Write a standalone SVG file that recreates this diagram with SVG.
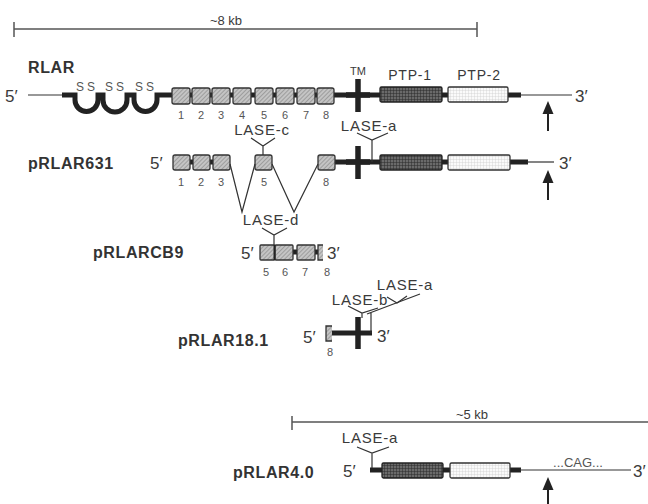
<svg xmlns="http://www.w3.org/2000/svg" width="648" height="504" viewBox="0 0 648 504">
<defs>
<pattern id="hatch" width="3" height="3" patternUnits="userSpaceOnUse" patternTransform="rotate(45)">
<rect width="3" height="3" fill="#c4c4c4"/>
<line x1="0" y1="0" x2="0" y2="3" stroke="#777" stroke-width="1"/>
</pattern>
<pattern id="dgrid" width="3" height="3" patternUnits="userSpaceOnUse">
<rect width="3" height="3" fill="#6a6a6a"/>
<path d="M0,0H3M0,0V3" stroke="#2a2a2a" stroke-width="1"/>
</pattern>
<pattern id="lgrid" width="3" height="3" patternUnits="userSpaceOnUse">
<rect width="3" height="3" fill="#fafafa"/>
<path d="M0,0H3M0,0V3" stroke="#c8c8c8" stroke-width="0.7"/>
</pattern>
</defs>
<style>
text{font-family:"Liberation Sans",Arial,sans-serif;fill:#3a3a3a}
.lab{font-weight:bold;font-size:16px;letter-spacing:0.6px;fill:#333}
.end{font-size:17px}
.num{font-size:11px;fill:#555}
.dom{font-size:14px;letter-spacing:0.8px}
.lase{font-size:15px;letter-spacing:0.8px}
.s{font-size:12px;fill:#555}
.thin{stroke:#333;stroke-width:1.2;fill:none}
.thick{stroke:#222;stroke-width:5;fill:none}
.ex{fill:url(#hatch);stroke:#333;stroke-width:1.3}
.p1{fill:url(#dgrid);stroke:#222;stroke-width:1.3}
.p2{fill:url(#lgrid);stroke:#333;stroke-width:1.3}
.tm{stroke:#222;stroke-width:5.5}
.y{stroke:#333;stroke-width:1.2;fill:none}
.bar{stroke:#555;stroke-width:1.5;fill:none}
.arr{fill:#222}
</style>

<g id="scale8">
<path class="bar" d="M14,29H477M14,22V37M477,22V37"/>
<text x="226" y="25" text-anchor="middle" style="font-size:13px">~8 kb</text>
</g>

<g id="RLAR">
<text class="lab" x="28" y="73">RLAR</text>
<text class="end" x="5" y="102">5′</text>
<path class="thin" d="M28,95H64"/>
<path class="thick" d="M62,95H75V100A11.5,11.5 0 0 0 98,100V95H103V100A12,12 0 0 0 127,100V95H134V100A11.5,11.5 0 0 0 157,100V95H380"/>
<text class="s" x="76" y="91">S</text><text class="s" x="87" y="91">S</text>
<text class="s" x="105" y="91">S</text><text class="s" x="116" y="91">S</text>
<text class="s" x="135" y="91">S</text><text class="s" x="146" y="91">S</text>
<rect class="ex" x="172" y="88" width="18" height="16" rx="2"/>
<rect class="ex" x="192" y="88" width="18" height="16" rx="2"/>
<rect class="ex" x="212" y="88" width="18" height="16" rx="2"/>
<rect class="ex" x="233" y="88" width="18" height="16" rx="2"/>
<rect class="ex" x="255" y="88" width="18" height="16" rx="2"/>
<rect class="ex" x="276" y="88" width="18" height="16" rx="2"/>
<rect class="ex" x="297" y="88" width="18" height="16" rx="2"/>
<rect class="ex" x="317" y="88" width="17" height="16" rx="2"/>
<text class="num" x="181" y="119" text-anchor="middle">1</text>
<text class="num" x="201" y="119" text-anchor="middle">2</text>
<text class="num" x="221" y="119" text-anchor="middle">3</text>
<text class="num" x="242" y="119" text-anchor="middle">4</text>
<text class="num" x="264" y="119" text-anchor="middle">5</text>
<text class="num" x="285" y="119" text-anchor="middle">6</text>
<text class="num" x="306" y="119" text-anchor="middle">7</text>
<text class="num" x="326" y="119" text-anchor="middle">8</text>
<path class="tm" d="M358,79V112M346,95H370"/>
<text x="358" y="75" text-anchor="middle" style="font-size:11px">TM</text>
<path class="thick" d="M440,95H450M508,95H521"/>
<rect class="p1" x="380" y="87" width="62" height="15" rx="1.5"/>
<rect class="p2" x="448" y="87" width="60" height="15" rx="1.5"/>
<text class="dom" x="410" y="80" text-anchor="middle">PTP-1</text>
<text class="dom" x="479" y="80" text-anchor="middle">PTP-2</text>
<path class="thin" d="M520,95H572"/>
<text class="end" x="575" y="102">3′</text>
<path class="arr" d="M548,101L542.5,114H553.5Z"/>
<path d="M548,112V131" stroke="#222" stroke-width="2"/>
</g>

<g id="pRLAR631">
<text class="lab" x="28" y="169">pRLAR631</text>
<text class="end" x="150" y="169">5′</text>
<path class="thick" d="M175,162H228M333,162H380"/>
<rect class="ex" x="173" y="155" width="17" height="15" rx="2"/>
<rect class="ex" x="193" y="155" width="17" height="15" rx="2"/>
<rect class="ex" x="213" y="155" width="17" height="15" rx="2"/>
<rect class="ex" x="255" y="155" width="17" height="15" rx="2"/>
<rect class="ex" x="318" y="155" width="17" height="15" rx="2"/>
<text class="num" x="181" y="186" text-anchor="middle">1</text>
<text class="num" x="201" y="186" text-anchor="middle">2</text>
<text class="num" x="221" y="186" text-anchor="middle">3</text>
<text class="num" x="264" y="186" text-anchor="middle">5</text>
<text class="num" x="326" y="186" text-anchor="middle">8</text>
<path class="y" d="M251,138L263,146L275,138M263,146V155"/>
<text class="lase" x="262" y="135" text-anchor="middle">LASE-c</text>
<path class="tm" d="M358,146V179M346,162H370"/>
<path class="y" d="M357,133L372,140L388,133M372,140V162"/>
<text class="lase" x="369" y="131" text-anchor="middle">LASE-a</text>
<path class="thick" d="M440,162H450M508,162H528"/>
<rect class="p1" x="380" y="155" width="62" height="15" rx="1.5"/>
<rect class="p2" x="448" y="155" width="62" height="15" rx="1.5"/>
<path class="thin" d="M527,162H554"/>
<text class="end" x="559" y="169">3′</text>
<path class="arr" d="M548,170L542.5,183H553.5Z"/>
<path d="M548,181V200" stroke="#222" stroke-width="2"/>
</g>

<g id="splices">
<path class="thin" d="M230,164L242,212L255,164M272,164L294,212L318,164"/>
</g>

<g id="pRLARCB9">
<text class="lab" x="93" y="258">pRLARCB9</text>
<text class="end" x="241" y="259">5′</text>
<path class="thick" d="M262,252H320"/>
<rect class="ex" x="260" y="245" width="15" height="15" rx="1"/>
<rect class="ex" x="275" y="245" width="18" height="15" rx="1"/>
<rect class="ex" x="297" y="245" width="18" height="15" rx="1"/>
<path class="ex" d="M323,245H318V260H323"/>
<path d="M274.5,245V260" stroke="#222" stroke-width="2"/>
<text class="num" x="266" y="276" text-anchor="middle">5</text>
<text class="num" x="285" y="276" text-anchor="middle">6</text>
<text class="num" x="305" y="276" text-anchor="middle">7</text>
<text class="num" x="327" y="276" text-anchor="middle">8</text>
<text class="end" x="327" y="259">3′</text>
<path class="y" d="M262,228L274,235L287,228M274,235V245"/>
<text class="lase" x="271" y="225" text-anchor="middle">LASE-d</text>
</g>

<g id="pRLAR18.1">
<text class="lab" x="178" y="346">pRLAR18.1</text>
<text class="end" x="303" y="343">5′</text>
<path class="thick" d="M330,333H372"/>
<path class="ex" d="M332,326H326V341H332"/>
<text class="num" x="330" y="356" text-anchor="middle">8</text>
<path class="tm" d="M358,317V349"/>
<path class="thin" d="M371,312V333M367,314L420,294"/>
<path class="y" d="M348,306L362,313L378,308M362,313V318"/>
<path class="y" d="M387,297L397,303L407,296"/>
<text class="lase" x="360" y="305" text-anchor="middle">LASE-b</text>
<text class="lase" x="405" y="290" text-anchor="middle">LASE-a</text>
<text class="end" x="377" y="342">3′</text>
</g>

<g id="scale5">
<path class="bar" d="M292,422H648M292,416V430"/>
<text x="472" y="419" text-anchor="middle" style="font-size:13px">~5 kb</text>
</g>

<g id="pRLAR4.0">
<text class="lab" x="233" y="478">pRLAR4.0</text>
<text class="end" x="343" y="477">5′</text>
<path class="thick" d="M370,470H384M440,470H450M508,470H521"/>
<rect class="p1" x="382" y="463" width="61" height="15" rx="1.5"/>
<rect class="p2" x="450" y="463" width="60" height="15" rx="1.5"/>
<path class="thin" d="M520,470H631"/>
<text x="578" y="467" text-anchor="middle" style="font-size:13px;fill:#555">...CAG...</text>
<text class="end" x="633" y="477">3′</text>
<path class="y" d="M357,447L372,453L389,447M372,453V468"/>
<text class="lase" x="370" y="443" text-anchor="middle">LASE-a</text>
<path class="arr" d="M548,477L542.5,490H553.5Z"/>
<path d="M548,488V504" stroke="#222" stroke-width="2"/>
</g>
</svg>
